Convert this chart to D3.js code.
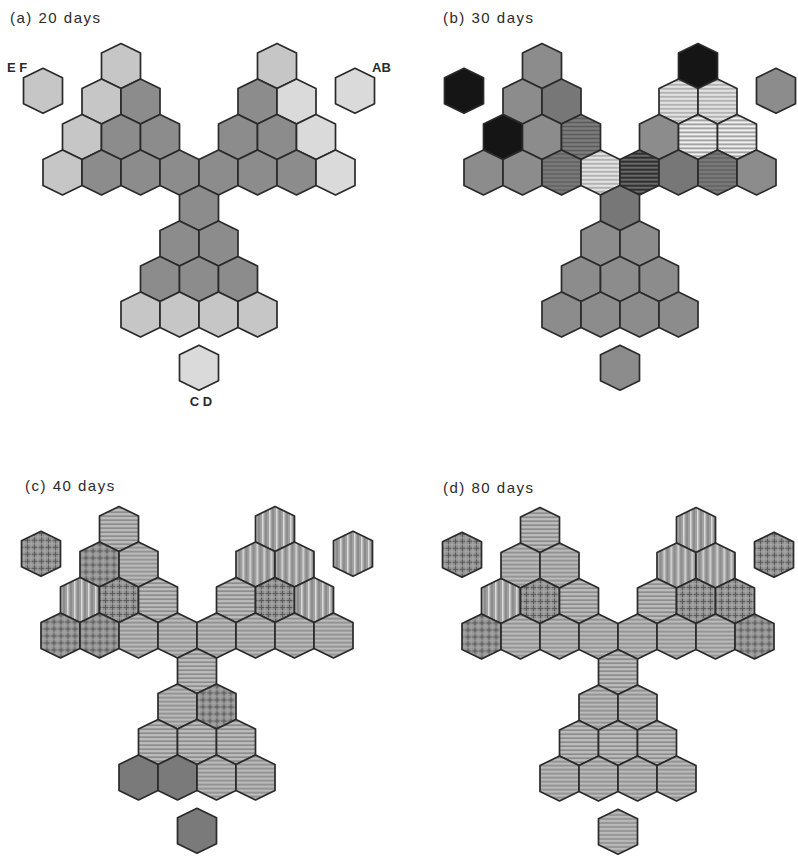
<!DOCTYPE html>
<html>
<head>
<meta charset="utf-8">
<script src="https://cdn.jsdelivr.net/npm/d3@7"></script>
<style>
  html, body { margin: 0; padding: 0; background: #fff; }
  svg { display: block; }
  .title { font-family: "Liberation Sans", Arial, sans-serif; font-size: 15px; fill: #2a2a2a; letter-spacing: 1.5px; }
  .tag { font-family: "Liberation Sans", Arial, sans-serif; font-size: 13px; font-weight: bold; fill: #2a2a2a; }
</style>
</head>
<body>
<script>
// Panel titles (time after inoculation)
const panelTitles = ["(a) 20 days", "(b) 30 days", "(c) 40 days", "(d) 80 days"];

// Fill class of each cell, in lattice order:
// left triangle (1+2+3+4), right triangle (1+2+3+4), stem (1+2+3+4), then EF, AB, CD
const fills20 = [
  "light",
  "light", "gray",
  "light", "gray", "gray",
  "light", "gray", "gray", "gray",
  "light",
  "gray", "pale",
  "gray", "gray", "pale",
  "gray", "gray", "gray", "pale",
  "gray",
  "gray", "gray",
  "gray", "gray", "gray",
  "light", "light", "light", "light",
  "light", "pale", "pale"
];
const fills30 = [
  "gray",
  "gray", "deep",
  "black", "gray", "hDeep",
  "gray", "gray", "hDeep", "hLight",
  "black",
  "hLight", "hLight",
  "gray", "hLight", "hLight",
  "hBlack", "deep", "hDeep", "gray",
  "deep",
  "gray", "gray",
  "gray", "gray", "gray",
  "gray", "gray", "gray", "gray",
  "black", "gray", "gray"
];
const fills40 = [
  "hMid",
  "cross", "hMid",
  "vMid", "cross", "hMid",
  "cross", "cross", "hMid", "hMid",
  "vMid",
  "vMid", "vMid",
  "hMid", "cross", "vMid",
  "hMid", "hMid", "hMid", "hMid",
  "hMid",
  "hMid", "cross",
  "hMid", "hMid", "hMid",
  "shade", "shade", "hMid", "hMid",
  "cross", "vMid", "shade"
];
const fills80 = [
  "hMid",
  "hMid", "hMid",
  "vMid", "cross", "hMid",
  "cross", "hMid", "hMid", "hMid",
  "vMid",
  "vMid", "vMid",
  "hMid", "cross", "cross",
  "hMid", "hMid", "hMid", "cross",
  "hMid",
  "hMid", "hMid",
  "hMid", "hMid", "hMid",
  "hMid", "hMid", "hMid", "hMid",
  "cross", "cross", "hMid"
];
const panelFills = [fills20, fills30, fills40, fills80];

// Labels of the three outer cells (shown on the first panel only)
const outerLabels = ["E F", "AB", "C D"];

// Panel anchors: centre column of the stem and y of the top row
const anchors = [[199, 66], [620, 66], [197, 529], [618, 530]];
const titlePos = [[10, 23], [443, 23], [25, 491], [443, 493]];

const W = 798, H = 857;
const svg = d3.select("body").append("svg").attr("width", W).attr("height", H);

// ---- fill patterns ----
const defs = svg.append("defs");
function stripes(id, size, base, lines, vertical) {
  const p = defs.append("pattern").attr("id", id)
    .attr("patternUnits", "userSpaceOnUse").attr("width", size).attr("height", size);
  p.append("rect").attr("width", size).attr("height", size).attr("fill", base);
  lines.forEach(([off, w, c]) => {
    if (vertical) p.append("rect").attr("x", off).attr("y", 0).attr("width", w).attr("height", size).attr("fill", c);
    else p.append("rect").attr("x", 0).attr("y", off).attr("width", size).attr("height", w).attr("fill", c);
  });
}
stripes("hLight", 4, "#bcbcbc", [[0.5, 1.6, "#f0f0f0"], [3, 0.7, "#999"]], false);
stripes("hDeep", 4, "#727272", [[1, 1, "#5c5c5c"], [3, 0.6, "#858585"]], false);
stripes("hBlack", 4, "#4e4e4e", [[0.5, 1.4, "#222"], [2.8, 0.9, "#8a8a8a"]], false);
stripes("hMid", 4, "#a2a2a2", [[0.5, 1.1, "#cfcfcf"], [2.8, 0.8, "#808080"]], false);
stripes("vMid", 7, "#a0a0a0", [[1, 1.5, "#dadada"], [4.5, 1, "#787878"]], true);
(function () {
  const p = defs.append("pattern").attr("id", "cross")
    .attr("patternUnits", "userSpaceOnUse").attr("width", 7).attr("height", 7);
  p.append("rect").attr("width", 7).attr("height", 7).attr("fill", "#8e8e8e");
  p.append("rect").attr("x", 0).attr("y", 0).attr("width", 7).attr("height", 1).attr("fill", "#5a5a5a");
  p.append("rect").attr("x", 0).attr("y", 0).attr("width", 1).attr("height", 7).attr("fill", "#5a5a5a");
  p.append("rect").attr("x", 0).attr("y", 3.5).attr("width", 7).attr("height", 0.9).attr("fill", "#b0b0b0");
  p.append("rect").attr("x", 3.5).attr("y", 0).attr("width", 0.9).attr("height", 7).attr("fill", "#b0b0b0");
})();

const fillOf = {
  pale: "#dadada",
  light: "#c6c6c6",
  gray: "#8c8c8c",
  deep: "#777777",
  shade: "#7a7a7a",
  black: "#151515",
  hLight: "url(#hLight)",
  hDeep: "url(#hDeep)",
  hBlack: "url(#hBlack)",
  hMid: "url(#hMid)",
  vMid: "url(#vMid)",
  cross: "url(#cross)"
};

// ---- lattice: columns in half-cell steps, rows in cell steps ----
function lattice() {
  const cells = [];
  for (let r = 0; r < 4; r++) for (let i = 0; i <= r; i++) cells.push({ col: -4 - r + 2 * i, row: r });
  for (let r = 0; r < 4; r++) for (let i = 0; i <= r; i++) cells.push({ col: 4 - r + 2 * i, row: r });
  for (let r = 0; r < 4; r++) for (let i = 0; i <= r; i++) cells.push({ col: -r + 2 * i, row: 4 + r });
  cells.push({ col: -8, row: 0.7 }, { col: 8, row: 0.7 }, { col: 0, row: 8.5 });
  return cells;
}
const cells = lattice();

// pointy-top hexagon
const hw = 19.5, cap = 9.5, half = 13;
const hexPts = [[0, -(half + cap)], [hw, -half], [hw, half], [0, half + cap], [-hw, half], [-hw, -half]];
const hexPath = d3.line()(hexPts) + "Z";

panelFills.forEach((fills, p) => {
  const [cx, cy] = anchors[p];
  const x = d3.scaleLinear().domain([-8, 8]).range([cx - 8 * hw, cx + 8 * hw]);
  const y = d3.scaleLinear().domain([0, 8.5]).range([cy, cy + 8.5 * (2 * half + cap)]);
  const g = svg.append("g");

  g.append("text").attr("class", "title")
    .attr("x", titlePos[p][0]).attr("y", titlePos[p][1]).text(panelTitles[p]);

  g.selectAll("path.hex").data(cells.map((c, i) => ({ ...c, f: fills[i] })))
    .join("path").attr("class", "hex")
    .attr("d", hexPath)
    .attr("transform", d => `translate(${x(d.col)},${y(d.row)})`)
    .attr("fill", d => fillOf[d.f])
    .attr("stroke", "#2a2a2a").attr("stroke-width", 1.7).attr("stroke-linejoin", "round");

  if (p === 0) {
    g.append("text").attr("class", "tag").attr("x", x(-8) - 36).attr("y", y(0) + 6).text(outerLabels[0]);
    g.append("text").attr("class", "tag").attr("x", x(8) + 17).attr("y", y(0) + 6).text(outerLabels[1]);
    g.append("text").attr("class", "tag").attr("text-anchor", "middle")
      .attr("x", x(0) + 2).attr("y", y(8.5) + 38).text(outerLabels[2]);
  }
});
</script>
</body>
</html>
